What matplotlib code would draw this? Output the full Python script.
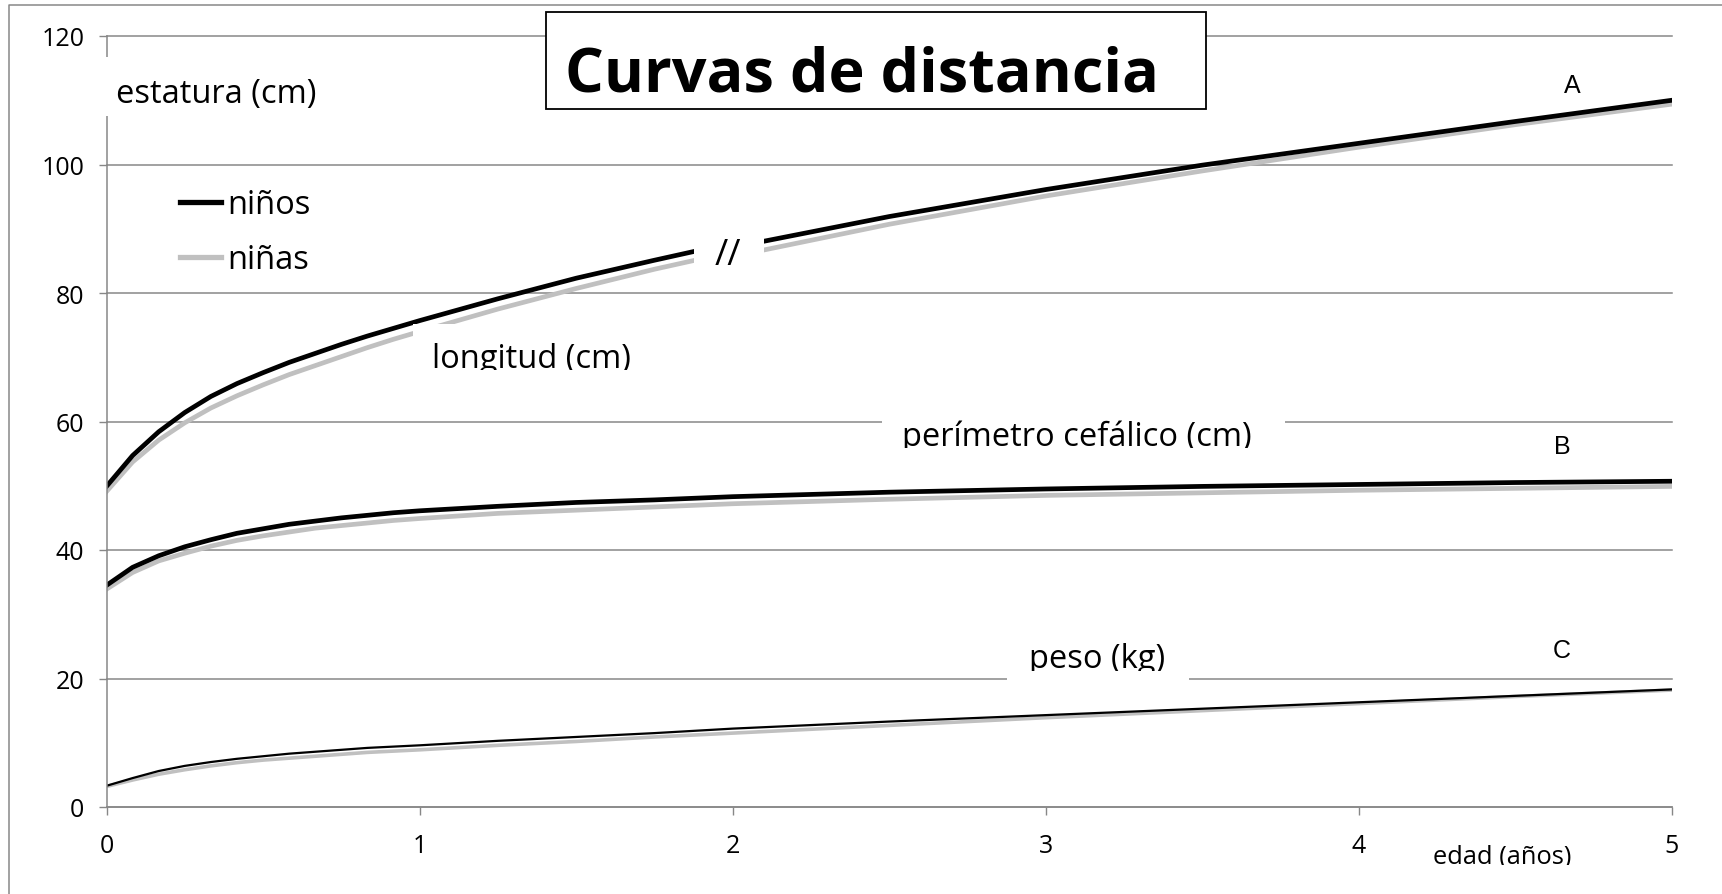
import matplotlib
matplotlib.use("Agg")
import matplotlib.pyplot as plt
from matplotlib.patches import Rectangle
from matplotlib.lines import Line2D

plt.rcParams['font.family'] = ['Open Sans', 'DejaVu Sans']

# medianas por edad (meses)
meses_longitud = [0, 1, 2, 3, 4, 5, 6, 7, 8, 9, 10, 11, 12, 15, 18, 21, 24]
longitud_ninos = [49.9, 54.7, 58.4, 61.4, 63.9, 65.9, 67.6, 69.2, 70.6, 72.0, 73.3, 74.5, 75.7, 79.1, 82.3, 85.1, 87.8]
longitud_ninas = [49.1, 53.7, 57.1, 59.8, 62.1, 64.0, 65.7, 67.3, 68.7, 70.1, 71.5, 72.8, 74.0, 77.5, 80.7, 83.7, 86.4]

meses_talla = [24, 30, 36, 42, 48, 54, 60]
talla_ninos = [87.1, 91.9, 96.1, 99.9, 103.3, 106.7, 110.0]
talla_ninas = [85.7, 90.7, 95.1, 99.0, 102.7, 106.2, 109.4]

meses = [0, 1, 2, 3, 4, 5, 6, 7, 8, 9, 10, 11, 12, 15, 18, 21, 24, 30, 36, 42, 48, 54, 60]
cefalico_ninos = [34.5, 37.3, 39.1, 40.5, 41.6, 42.6, 43.3, 44.0, 44.5, 45.0, 45.4, 45.8, 46.1, 46.8, 47.4, 47.8, 48.3, 49.0, 49.5, 49.9, 50.2, 50.5, 50.7]
cefalico_ninas = [33.9, 36.5, 38.3, 39.5, 40.6, 41.5, 42.2, 42.8, 43.4, 43.8, 44.2, 44.6, 44.9, 45.7, 46.2, 46.7, 47.2, 47.9, 48.5, 48.9, 49.3, 49.6, 49.9]
peso_ninos = [3.3, 4.5, 5.6, 6.4, 7.0, 7.5, 7.9, 8.3, 8.6, 8.9, 9.2, 9.4, 9.6, 10.3, 10.9, 11.5, 12.2, 13.3, 14.3, 15.3, 16.3, 17.3, 18.3]
peso_ninas = [3.2, 4.2, 5.1, 5.8, 6.4, 6.9, 7.3, 7.6, 7.9, 8.2, 8.5, 8.7, 8.9, 9.6, 10.2, 10.9, 11.5, 12.7, 13.9, 15.0, 16.1, 17.2, 18.2]

anios = [0, 1, 2, 3, 4, 5]
marcas_y = [0, 20, 40, 60, 80, 100, 120]

NEGRO = 'black'
GRIS = '#c0c0c0'
REJILLA = '#878787'

W, H = 1722, 895
fig = plt.figure(figsize=(W / 100, H / 100), dpi=100)
ax = fig.add_axes([106.5 / W, 87 / H, (1672 - 106.5) / W, (858 - 87) / H])


def a_anios(m):
    return [v / 12 for v in m]


# niñas debajo, niños encima
ax.plot(a_anios(meses_longitud), longitud_ninas, color=GRIS, lw=3.4)
ax.plot(a_anios(meses_talla), talla_ninas, color=GRIS, lw=3.4)
ax.plot(a_anios(meses), cefalico_ninas, color=GRIS, lw=3.4)
ax.plot(a_anios(meses), peso_ninas, color=GRIS, lw=2.6)
ax.plot(a_anios(meses_longitud), longitud_ninos, color=NEGRO, lw=3.4)
ax.plot(a_anios(meses_talla), talla_ninos, color=NEGRO, lw=3.4)
ax.plot(a_anios(meses), cefalico_ninos, color=NEGRO, lw=3.4)
ax.plot(a_anios(meses), peso_ninos, color=NEGRO, lw=1.6)

ax.set_xlim(0, 5)
ax.set_ylim(0, 120)
ax.set_xticks(anios)
ax.set_yticks(marcas_y)
ax.tick_params(axis='both', colors=REJILLA, labelcolor='black', labelsize=18,
               length=6, width=1)
ax.tick_params(axis='y', pad=10)
ax.tick_params(axis='x', pad=13)
ax.grid(axis='y', color=REJILLA, lw=1.1)
for gl in ax.get_ygridlines():
    gl.set_clip_on(False)
for s in ['top', 'right']:
    ax.spines[s].set_visible(False)
for s in ['left', 'bottom']:
    ax.spines[s].set_color(REJILLA)
    ax.spines[s].set_linewidth(1.1)

leg = ax.legend(handles=[Line2D([], [], color=NEGRO, lw=3.8), Line2D([], [], color=GRIS, lw=3.8)],
                labels=['niños', 'niñas'], loc='upper left', frameon=False,
                bbox_to_anchor=(180 / W, 1 - 189 / H), bbox_transform=fig.transFigure,
                borderaxespad=0, borderpad=0, fontsize=23.5, handlelength=1.25,
                handletextpad=0.2, labelspacing=0.68)

# marco exterior
fig.add_artist(Line2D([9 / W, 9 / W, 1], [0, 1 - 6 / H, 1 - 6 / H], transform=fig.transFigure,
                      color=REJILLA, lw=1.1))


def caja(x0, y0, x1, y1, **kw):
    r = Rectangle((x0 / W, 1 - y1 / H), (x1 - x0) / W, (y1 - y0) / H,
                  transform=fig.transFigure, **kw)
    return r


def rotulo(texto, cx, cy, fondo, recorte=None, size=23.5, **kw):
    if fondo is not None:
        fig.add_artist(caja(*fondo, facecolor='white', edgecolor='none'))
    t = fig.text(cx / W, 1 - cy / H, texto, ha='center', va='center', fontsize=size, **kw)
    if recorte is not None:
        t.set_clip_path(caja(0, 0, W, recorte))
    return t


rotulo('estatura (cm)', 216, 94, (96, 58, 330, 117))
rotulo('longitud (cm)', 531, 360, (413, 325, 650, 371), recorte=371)
rotulo('perímetro cefálico (cm)', 1077, 437, (882, 405, 1285, 449), recorte=449)
rotulo('peso (kg)', 1097, 660, (1007, 630, 1189, 684), recorte=672)
rotulo('edad (años)', 1502, 857, None, recorte=866, size=18.4)
rotulo('//', 728, 256, (694, 225, 764, 278), size=26)

for letra, x, y in [('A', 1572, 86), ('B', 1562, 447), ('C', 1562, 651)]:
    rotulo(letra, x, y, None, size=18, family='Liberation Sans')

# título en recuadro
fig.add_artist(caja(546, 13, 1206, 110, facecolor='white', edgecolor='black', lw=1.3))
rotulo('Curvas de distancia', 862, 76, None, size=44, fontweight='bold')

fig.savefig('out.png', dpi=100)
